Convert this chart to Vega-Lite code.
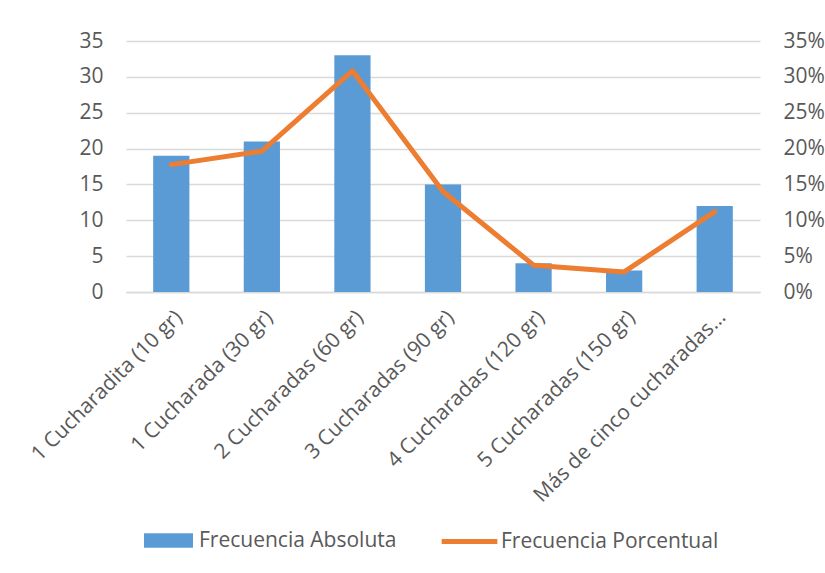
{
  "$schema": "https://vega.github.io/schema/vega-lite/v6.json",
  "width": 634,
  "height": 251,
  "autosize": {"type": "none"},
  "padding": {"left": 126, "top": 41, "right": 65, "bottom": 281},
  "background": "white",
  "config": {
    "font": "Open Sans",
    "view": {"stroke": null},
    "axis": {"labelFont": "Open Sans", "labelColor": "#595959", "labelFontSize": 21, "ticks": false, "gridColor": "#D9D9D9", "gridWidth": 1.3},
    "legend": {"labelFont": "Open Sans", "labelColor": "#595959", "labelFontSize": 21, "labelLimit": 400}
  },
  "data": {"values": [
    {"cat": "1 Cucharadita (10 gr)", "abs": 19, "pct": 0.1776},
    {"cat": "1 Cucharada (30 gr)", "abs": 21, "pct": 0.1963},
    {"cat": "2 Cucharadas (60 gr)", "abs": 33, "pct": 0.3084},
    {"cat": "3 Cucharadas (90 gr)", "abs": 15, "pct": 0.1402},
    {"cat": "4 Cucharadas (120 gr)", "abs": 4, "pct": 0.0374},
    {"cat": "5 Cucharadas (150 gr)", "abs": 3, "pct": 0.028},
    {"cat": "Más de cinco cucharadas…", "abs": 12, "pct": 0.1121}
  ]},
  "encoding": {
    "x": {"field": "cat", "type": "nominal", "sort": null, "title": null,
      "scale": {"paddingInner": 0.6, "paddingOuter": 0.3},
      "axis": {"labelAngle": -45, "labelPadding": 14, "domainColor": "#D9D9D9", "domainWidth": 1.3, "labelLimit": 300}}
  },
  "layer": [
    {
      "mark": {"type": "bar", "color": "#5B9BD5"},
      "encoding": {
        "y": {"field": "abs", "type": "quantitative", "title": null,
          "scale": {"domain": [0, 35]},
          "axis": {"values": [0, 5, 10, 15, 20, 25, 30, 35], "domain": false, "labelPadding": 23}},
        "color": {"datum": "Frecuencia Absoluta", "type": "nominal",
          "scale": {"range": ["#5B9BD5"]},
          "legend": {"orient": "none", "legendX": 18, "legendY": 475, "title": null,
            "symbolType": "M-1,-0.3H1V0.3H-1Z", "symbolSize": 2400, "symbolStrokeWidth": 0, "labelOffset": 6}}
      }
    },
    {
      "mark": {"type": "line", "color": "#ED7D31", "strokeWidth": 5, "strokeCap": "round", "strokeJoin": "round"},
      "encoding": {
        "y": {"field": "pct", "type": "quantitative", "title": null,
          "scale": {"domain": [0, 0.35]},
          "axis": {"orient": "right", "format": "0%", "values": [0, 0.05, 0.1, 0.15, 0.2, 0.25, 0.3, 0.35], "domain": false, "grid": false, "labelPadding": 23}},
        "color": {"datum": "Frecuencia Porcentual", "type": "nominal",
          "scale": {"range": ["#ED7D31"]},
          "legend": {"orient": "none", "legendX": 313, "legendY": 470, "title": null,
            "symbolType": "stroke", "symbolSize": 3100, "symbolStrokeWidth": 5, "labelOffset": 1}}
      }
    }
  ],
  "resolve": {"scale": {"y": "independent", "color": "independent"}, "legend": {"color": "independent"}}
}
